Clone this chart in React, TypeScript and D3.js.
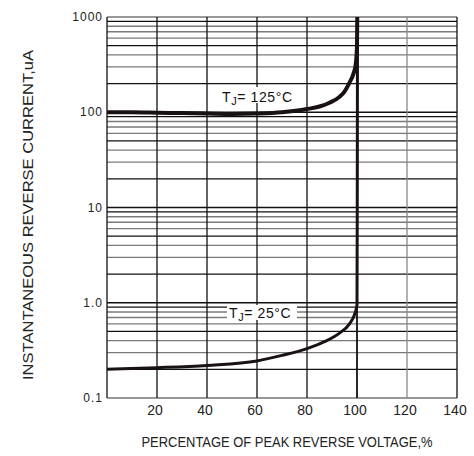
import * as d3 from "d3";

// percentage of peak reverse voltage vs. reverse current (uA)
const pct125 = [0, 10, 20, 30, 40, 50, 60, 70, 80, 85, 89, 93, 95, 97, 98.5, 99.5, 100, 100.1];
const cur125 = [100, 100, 99, 98, 97, 96, 97, 100, 108, 115, 126, 145, 165, 205, 250, 320, 500, 1000];

const pct25 = [0, 20, 40, 60, 70, 80, 87, 93, 97, 99, 100, 100.1, 100.2];
const cur25 = [0.2, 0.208, 0.22, 0.245, 0.28, 0.33, 0.39, 0.48, 0.6, 0.75, 0.95, 10, 1000];

const xTicks = [20, 40, 60, 80, 100, 120, 140];
const yTicks = [1000, 100, 10, 1, 0.1];
const yTickLabels = ["1000", "100", "10", "1.0", "0.1"];

const W = 474,
  H = 456;

export default function App() {
  const x = d3.scaleLinear().domain([0, 140]).range([107, 457]);
  const y = d3.scaleLog().domain([0.1, 1000]).range([398, 17]);

  // minor gridlines 2..9 per decade
  const minor: { v: number; dark: boolean }[] = [];
  [0.1, 1, 10, 100].forEach((d) => {
    for (let k = 2; k <= 9; k++) minor.push({ v: d * k, dark: k === 2 || k === 9 || k === 5 });
  });

  const line = d3
    .line<[number, number]>()
    .x((d) => x(d[0]))
    .y((d) => y(d[1]))
    .curve(d3.curveMonotoneX);

  const d125 = line(pct125.map((p, i) => [p, cur125[i]]));
  const d25 = line(pct25.map((p, i) => [p, cur25[i]]));

  const font = "'Liberation Sans', Arial, sans-serif";

  return (
    <svg
      width={W}
      height={H}
      style={{ position: "absolute", left: 0, top: 0, background: "#fff" }}
      fontFamily={font}
    >
      {/* ── GRID ───────────────────────────── */}
      {minor.map((m, i) => (
        <line
          key={"m" + i}
          x1={x(0)}
          x2={x(140)}
          y1={y(m.v)}
          y2={y(m.v)}
          stroke={m.dark ? "#111" : "#7a7a7a"}
          strokeWidth={1.3}
        />
      ))}
      {yTicks.map((t) => (
        <line
          key={"y" + t}
          x1={x(0)}
          x2={x(140)}
          y1={y(t)}
          y2={y(t)}
          stroke={t === 1000 || t === 0.1 ? "#777" : "#111"}
          strokeWidth={1.3}
        />
      ))}
      {[0, ...xTicks].map((t) => (
        <line
          key={"x" + t}
          x1={x(t)}
          x2={x(t)}
          y1={y(1000)}
          y2={y(0.1)}
          stroke={t === 120 ? "#888" : "#111"}
          strokeWidth={t === 100 ? 1.8 : 1.3}
        />
      ))}

      {/* ── CURVES ─────────────────────────── */}
      <path d={d125 ?? ""} fill="none" stroke="#1a1212" strokeWidth={4} />
      <path d={d25 ?? ""} fill="none" stroke="#1a1212" strokeWidth={3} />

      {/* ── LABELS ─────────────────────────── */}
      <rect x={208} y={87} width={89} height={16} fill="#fff" />
      <text x={222} y={102} fontSize={14} letterSpacing={0.6} fill="#111">
        T<tspan fontSize={11} dy={3}>J</tspan>
        <tspan dy={-3}>= 125°C</tspan>
      </text>
      <rect x={227} y={305} width={70} height={15} fill="#fff" />
      <text x={229} y={318} fontSize={14} letterSpacing={0.6} fill="#111">
        T<tspan fontSize={11} dy={3}>J</tspan>
        <tspan dy={-3}>= 25°C</tspan>
      </text>

      {/* ── AXES TEXT ──────────────────────── */}
      {yTicks.map((t, i) => (
        <text
          key={"yl" + t}
          x={103}
          y={y(t) + 4}
          textAnchor="end"
          fontSize={12}
          letterSpacing={1}
          fill="#222"
        >
          {yTickLabels[i]}
        </text>
      ))}
      {xTicks.map((t) => (
        <text key={"xl" + t} x={x(t) - 2} y={415} textAnchor="middle" fontSize={14} fill="#222">
          {t}
        </text>
      ))}
      <text
        x={287}
        y={447}
        textAnchor="middle"
        fontSize={14}
        textLength={291}
        lengthAdjust="spacingAndGlyphs"
        fill="#222"
      >
        PERCENTAGE OF PEAK REVERSE VOLTAGE,%
      </text>
      <text
        transform={`translate(33,${215}) rotate(-90)`}
        textAnchor="middle"
        fontSize={15}
        textLength={330}
        lengthAdjust="spacingAndGlyphs"
        fill="#222"
      >
        INSTANTANEOUS REVERSE CURRENT,uA
      </text>
    </svg>
  );
}
